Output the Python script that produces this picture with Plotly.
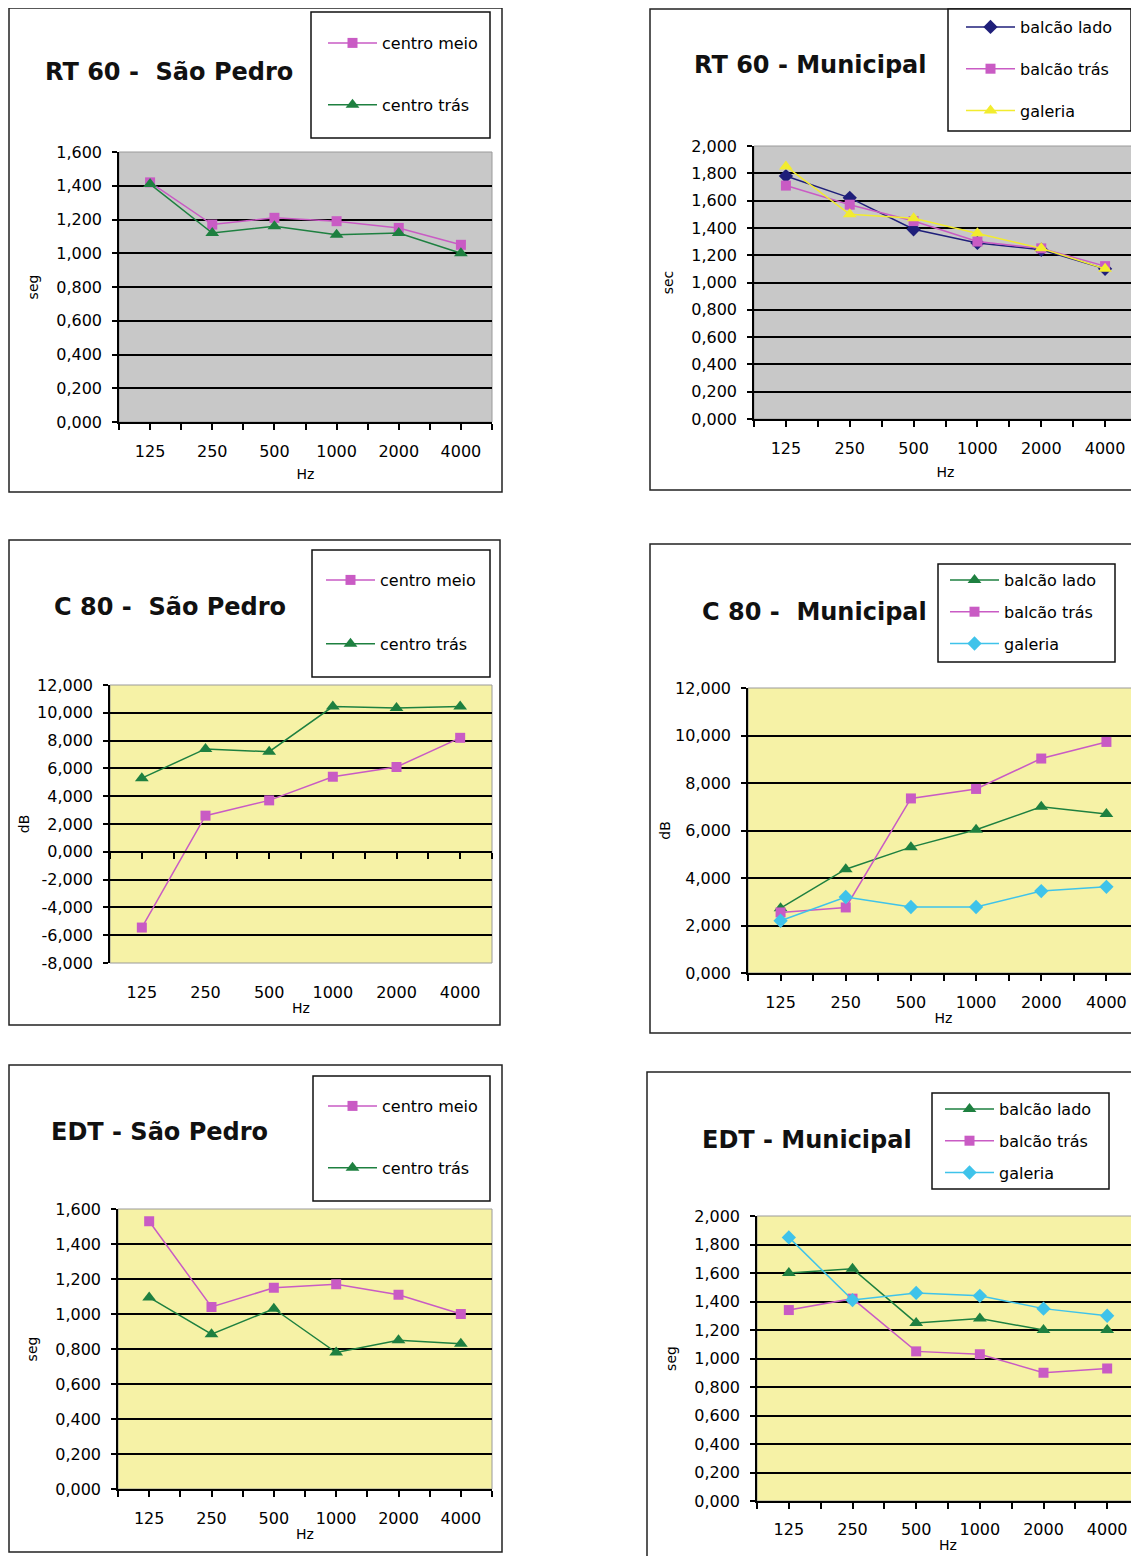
import plotly.graph_objects as go

W, H = 1139, 1556
OFF = 8  # page body margin of the browser

categories = ["125", "250", "500", "1000", "2000", "4000"]

# RT 60 - São Pedro (seg)
rt60_sp_centro_meio = [1.42, 1.17, 1.21, 1.19, 1.15, 1.05]
rt60_sp_centro_tras = [1.41, 1.12, 1.16, 1.11, 1.12, 1.00]
# RT 60 - Municipal (sec)
rt60_mun_balcao_lado = [1.78, 1.62, 1.39, 1.29, 1.24, 1.10]
rt60_mun_balcao_tras = [1.71, 1.57, 1.45, 1.30, 1.25, 1.12]
rt60_mun_galeria = [1.85, 1.50, 1.47, 1.36, 1.25, 1.10]
# C 80 - São Pedro (dB)
c80_sp_centro_meio = [-5.45, 2.6, 3.7, 5.4, 6.1, 8.2]
c80_sp_centro_tras = [5.3, 7.4, 7.2, 10.45, 10.35, 10.45]
# C 80 - Municipal (dB)
c80_mun_balcao_lado = [2.73, 4.37, 5.3, 6.03, 7.0, 6.7]
c80_mun_balcao_tras = [2.55, 2.76, 7.35, 7.75, 9.03, 9.73]
c80_mun_galeria = [2.2, 3.2, 2.78, 2.78, 3.45, 3.63]
# EDT - São Pedro (seg)
edt_sp_centro_meio = [1.53, 1.04, 1.15, 1.17, 1.11, 1.00]
edt_sp_centro_tras = [1.095, 0.885, 1.03, 0.78, 0.85, 0.83]
# EDT - Municipal (seg)
edt_mun_balcao_lado = [1.60, 1.63, 1.25, 1.28, 1.20, 1.20]
edt_mun_balcao_tras = [1.34, 1.42, 1.05, 1.03, 0.90, 0.93]
edt_mun_galeria = [1.85, 1.41, 1.46, 1.44, 1.35, 1.30]

# tick label values
y_ticks_16 = [0.0, 0.2, 0.4, 0.6, 0.8, 1.0, 1.2, 1.4, 1.6]
y_ticks_20 = [0.0, 0.2, 0.4, 0.6, 0.8, 1.0, 1.2, 1.4, 1.6, 1.8, 2.0]
y_ticks_c80_sp = [-8, -6, -4, -2, 0, 2, 4, 6, 8, 10, 12]
y_ticks_c80_mun = [0, 2, 4, 6, 8, 10, 12]

# ---------------- styles ----------------
FONT = "DejaVu Sans"
MAG = "#C95BC4"
GREEN = "#1E8040"
NAVY = "#1F1F7A"
YELLOW = "#F2EC2E"
CYAN = "#3FC3EA"
GRAY_BG = "#C8C8C8"
YEL_BG = "#F6F2A6"

SQ = dict(symbol="square", size=10)
TRI = dict(symbol="triangle-up", size=12)
DIA = dict(symbol="diamond", size=11)

panels = [
    dict(title="RT 60 -  São Pedro", ytitle="seg", yticks=y_ticks_16, bg=GRAY_BG,
         plot=(119, 152, 492, 422), frame=(9, 8, 502, 492), lbox=(311, 12, 490, 138),
         tpos=(43, 72), lpos=(323, 26), gap=38, ystand=14, xstand=8, hzstand=9,
         series=[("centro meio", rt60_sp_centro_meio, MAG, SQ),
                 ("centro trás", rt60_sp_centro_tras, GREEN, TRI)]),
    dict(title="RT 60 - Municipal", ytitle="sec", yticks=y_ticks_20, bg=GRAY_BG,
         plot=(754, 146, 1137, 419), frame=(650, 9, 1160, 490), lbox=(948, 9, 1131, 131),
         tpos=(692, 65), lpos=(961, 10), gap=18, ystand=14, xstand=8, hzstand=10,
         series=[("balcão lado", rt60_mun_balcao_lado, NAVY, DIA),
                 ("balcão trás", rt60_mun_balcao_tras, MAG, SQ),
                 ("galeria", rt60_mun_galeria, YELLOW, TRI)]),
    dict(title="C 80 -  São Pedro", ytitle="dB", yticks=y_ticks_c80_sp, bg=YEL_BG,
         plot=(110, 685, 492, 963), frame=(9, 540, 500, 1025), lbox=(312, 550, 490, 677),
         tpos=(52, 607), lpos=(321, 563), gap=40, ystand=4, xstand=18, hzstand=2,
         series=[("centro meio", c80_sp_centro_meio, MAG, SQ),
                 ("centro trás", c80_sp_centro_tras, GREEN, TRI)]),
    dict(title="C 80 -  Municipal", ytitle="dB", yticks=y_ticks_c80_mun, bg=YEL_BG,
         plot=(748, 688, 1139, 973), frame=(650, 544, 1160, 1033), lbox=(938, 564, 1115, 662),
         tpos=(700, 612), lpos=(945, 563), gap=8, ystand=1, xstand=8, hzstand=2,
         series=[("balcão lado", c80_mun_balcao_lado, GREEN, TRI),
                 ("balcão trás", c80_mun_balcao_tras, MAG, SQ),
                 ("galeria", c80_mun_galeria, CYAN, DIA)]),
    dict(title="EDT - São Pedro", ytitle="seg", yticks=y_ticks_16, bg=YEL_BG,
         plot=(118, 1209, 492, 1489), frame=(9, 1065, 502, 1552), lbox=(313, 1076, 490, 1201),
         tpos=(49, 1132), lpos=(323, 1089), gap=38, ystand=14, xstand=8, hzstand=2,
         series=[("centro meio", edt_sp_centro_meio, MAG, SQ),
                 ("centro trás", edt_sp_centro_tras, GREEN, TRI)]),
    dict(title="EDT - Municipal", ytitle="seg", yticks=y_ticks_20, bg=YEL_BG,
         plot=(757, 1216, 1139, 1501), frame=(647, 1072, 1160, 1580), lbox=(932, 1093, 1109, 1189),
         tpos=(700, 1140), lpos=(940, 1092), gap=8, ystand=14, xstand=7, hzstand=2,
         series=[("balcão lado", edt_mun_balcao_lado, GREEN, TRI),
                 ("balcão trás", edt_mun_balcao_tras, MAG, SQ),
                 ("galeria", edt_mun_galeria, CYAN, DIA)]),
]

FW, FH = W - OFF, H - OFF


def fx(p):
    return (p - OFF) / FW


def fy(p):
    return 1 - (p - OFF) / FH


def fmt(v):
    return f"{v:.3f}".replace(".", ",")


n = len(categories)
x_idx = list(range(n))
x_tickvals = [i / 2 - 0.5 for i in range(2 * n + 1)]
x_ticktext = [categories[int(v)] if float(v).is_integer() else "" for v in x_tickvals]

fig = go.Figure()
layout = dict(
    width=FW, height=FH, margin=dict(l=0, r=0, t=0, b=0),
    paper_bgcolor="white", plot_bgcolor="rgba(0,0,0,0)",
    font=dict(family=FONT, size=16, color="black"),
    separators=",.",
    showlegend=True,
    template="none",
)
shapes = []
annotations = []

for i, p in enumerate(panels):
    k = i + 1
    sfx = "" if k == 1 else str(k)
    xa_name, ya_name = "x" + sfx, "y" + sfx
    grid_y = "y" + str(k + 6)
    x0, y0, x1, y1 = p["plot"]
    yt = p["yticks"]
    yr = [min(yt), max(yt)]
    ydom = [fy(y1), fy(y0)]
    zero_cross = yr[0] < 0

    layout["xaxis" + sfx] = dict(
        domain=[fx(x0), min(1.0, fx(x1))], anchor=ya_name, range=[-0.5, n - 0.5],
        tickmode="array", tickvals=x_tickvals, ticktext=x_ticktext,
        ticks="" if zero_cross else "outside", ticklen=6, tickwidth=1.5, tickcolor="black",
        showline=not zero_cross, linecolor="black", linewidth=1.5,
        showgrid=False, zeroline=False, ticklabelstandoff=p["xstand"],
        tickfont=dict(size=16),
        title=dict(text="Hz", font=dict(size=14), standoff=p["hzstand"]),
    )
    layout["yaxis" + sfx] = dict(
        domain=ydom, anchor=xa_name, range=yr,
        tickmode="array", tickvals=yt, ticktext=[fmt(v) for v in yt],
        ticks="outside", ticklen=5, tickwidth=1.5, tickcolor="black",
        showline=True, linecolor="black", linewidth=1.5,
        showgrid=False, zeroline=False, ticklabelstandoff=7,
        tickfont=dict(size=16),
        title=dict(text=p["ytitle"], font=dict(size=14), standoff=p["ystand"]),
    )
    # gridline overlay (interior values only)
    layout["yaxis" + str(k + 6)] = dict(
        overlaying=ya_name, anchor=xa_name, range=yr, side="left",
        tickmode="array", tickvals=yt[1:-1], showticklabels=False, ticks="",
        showline=False, showgrid=True, gridcolor="black", gridwidth=2, zeroline=False,
    )
    last_x = xa_name
    if zero_cross:
        pos = ydom[0] + (0 - yr[0]) / (yr[1] - yr[0]) * (ydom[1] - ydom[0])
        layout["xaxis7"] = dict(
            overlaying=xa_name, anchor="free", position=pos, range=[-0.5, n - 0.5],
            tickmode="array", tickvals=x_tickvals, showticklabels=False,
            ticks="outside", ticklen=6, tickwidth=1.5, tickcolor="black",
            showline=True, linecolor="black", linewidth=1.5, showgrid=False, zeroline=False,
        )
        last_x = "x7"

    lname = "legend" if k == 1 else f"legend{k}"
    layout[lname] = dict(
        x=fx(p["lpos"][0]), y=fy(p["lpos"][1]), xanchor="left", yanchor="top",
        bgcolor="rgba(0,0,0,0)", borderwidth=0, font=dict(size=16, family=FONT),
        itemwidth=49, tracegroupgap=p["gap"], traceorder="grouped",
    )

    ns = len(p["series"])
    for j, (name, vals, color, mk) in enumerate(p["series"]):
        is_last = j == ns - 1
        fig.add_trace(go.Scatter(
            x=x_idx, y=vals, name=name, mode="lines+markers",
            line=dict(color=color, width=1.5),
            marker=dict(color=color, symbol=mk["symbol"], size=mk["size"]),
            xaxis=last_x if is_last else xa_name,
            yaxis=grid_y if is_last else ya_name,
            legend=lname, legendgroup=f"p{k}s{j}",
        ))

    # plot area fill + border
    shapes.append(dict(type="rect", xref=f"{xa_name} domain", yref=f"{ya_name} domain",
                       x0=0, x1=1, y0=0, y1=1, fillcolor=p["bg"],
                       line=dict(color="#9a9a9a", width=1), layer="below"))
    # chart frame
    fx0, fy0, fx1, fy1 = p["frame"]
    shapes.append(dict(type="rect", xref="paper", yref="paper",
                       x0=fx(fx0), x1=fx(fx1), y0=fy(fy1), y1=fy(fy0),
                       line=dict(color="#222", width=1.5), layer="below"))
    # legend box
    lx0, ly0, lx1, ly1 = p["lbox"]
    shapes.append(dict(type="rect", xref="paper", yref="paper",
                       x0=fx(lx0), x1=fx(lx1), y0=fy(ly1), y1=fy(ly0),
                       line=dict(color="#111", width=1.5), fillcolor="white", layer="below"))
    # title
    annotations.append(dict(text=f"<b>{p['title']}</b>", xref="paper", yref="paper",
                            x=fx(p["tpos"][0]), y=fy(p["tpos"][1]), xanchor="left",
                            yanchor="middle", showarrow=False,
                            font=dict(size=24, family=FONT, color="#111")))

layout["shapes"] = shapes
layout["annotations"] = annotations
fig.update_layout(**layout)
fig.write_html("out.html")
